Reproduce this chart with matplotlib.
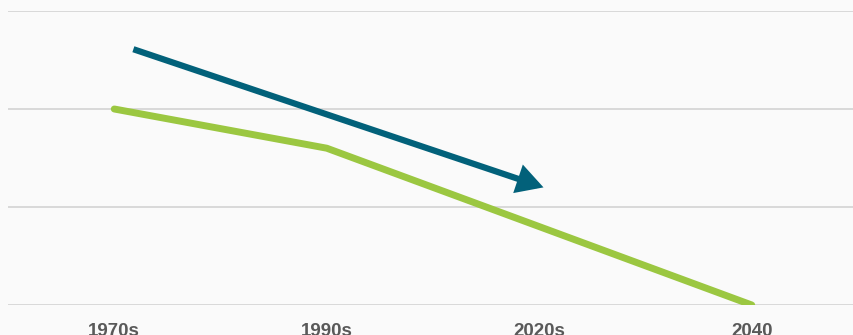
import matplotlib
matplotlib.use("Agg")
import matplotlib.pyplot as plt

categories = ["1970s", "1990s", "2020s", "2040"]
values = [2.0, 1.6, 0.8, 0.0]
# trend arrow (start, end) in data units
arrow_start = (0.09, 2.61)
arrow_end = (2.02, 1.20)

bg = "#fafafa"
fig = plt.figure(figsize=(8.54, 3.35), dpi=100, facecolor=bg)
ax = fig.add_axes([8/854, 30/335, 850/854, 294/335])
ax.set_facecolor(bg)

x = list(range(len(categories)))
ax.plot(x, values, color="#9bc741", lw=5.0, solid_capstyle="round", solid_joinstyle="round", zorder=3)

ax.annotate("", xy=arrow_end, xytext=arrow_start,
            arrowprops=dict(arrowstyle="-|>,head_length=1.25,head_width=0.7",
                            color="#02617a", lw=4.5, shrinkA=0, shrinkB=0,
                            joinstyle="miter", capstyle="butt"),
            zorder=4)

ax.set_xlim(-0.5, 3.5)
ax.set_ylim(0, 3)
ax.set_yticks([0, 1, 2, 3])
ax.yaxis.grid(True, color="#d9d9d9", lw=1.4)
ax.set_axisbelow(True)
ax.tick_params(axis="y", left=False, labelleft=False)
ax.tick_params(axis="x", length=0, pad=13)
ax.set_xticks(x)
ax.set_xticklabels(categories, fontsize=13.5, fontweight="bold", color="#595959",
                   fontfamily="Liberation Sans")
for s in ax.spines.values():
    s.set_visible(False)

fig.savefig("out.png", dpi=100, facecolor=bg)
